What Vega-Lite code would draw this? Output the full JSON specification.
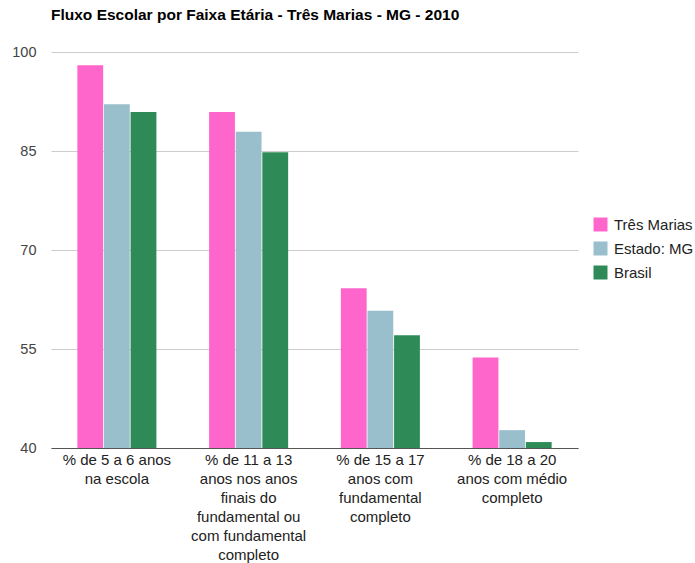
{
  "$schema": "https://vega.github.io/schema/vega-lite/v6.json",
  "width": 527,
  "height": 396,
  "autosize": "none",
  "padding": {"left": 51, "top": 52, "right": 117, "bottom": 115},
  "background": "white",
  "title": {
    "text": "Fluxo Escolar por Faixa Etária - Três Marias - MG - 2010",
    "anchor": "start",
    "frame": "group",
    "font": "Liberation Sans",
    "fontSize": 15.5,
    "fontWeight": "bold",
    "color": "#000000",
    "offset": 21
  },
  "data": {
    "values": [
      {"faixa": "% de 5 a 6 anos na escola", "local": "Três Marias", "valor": 98.0},
      {"faixa": "% de 5 a 6 anos na escola", "local": "Estado: MG", "valor": 92.1},
      {"faixa": "% de 5 a 6 anos na escola", "local": "Brasil", "valor": 90.9},
      {"faixa": "% de 11 a 13 anos nos anos finais do fundamental ou com fundamental completo", "local": "Três Marias", "valor": 90.9},
      {"faixa": "% de 11 a 13 anos nos anos finais do fundamental ou com fundamental completo", "local": "Estado: MG", "valor": 87.9},
      {"faixa": "% de 11 a 13 anos nos anos finais do fundamental ou com fundamental completo", "local": "Brasil", "valor": 84.8},
      {"faixa": "% de 15 a 17 anos com fundamental completo", "local": "Três Marias", "valor": 64.2},
      {"faixa": "% de 15 a 17 anos com fundamental completo", "local": "Estado: MG", "valor": 60.8},
      {"faixa": "% de 15 a 17 anos com fundamental completo", "local": "Brasil", "valor": 57.1},
      {"faixa": "% de 18 a 20 anos com médio completo", "local": "Três Marias", "valor": 53.7},
      {"faixa": "% de 18 a 20 anos com médio completo", "local": "Estado: MG", "valor": 42.7},
      {"faixa": "% de 18 a 20 anos com médio completo", "local": "Brasil", "valor": 40.9}
    ]
  },
  "mark": {"type": "bar"},
  "encoding": {
    "x": {
      "field": "faixa",
      "type": "nominal",
      "sort": null,
      "title": null,
      "scale": {"paddingInner": 0.4, "paddingOuter": 0.2},
      "axis": {
        "labelAngle": 0,
        "labelFont": "Liberation Sans",
        "labelFontSize": 15,
        "labelColor": "#222222",
        "labelLineHeight": 19,
        "labelBaseline": "top",
        "labelPadding": 4,
        "labelLimit": 0,
        "ticks": false,
        "domainColor": "#555555",
        "domainWidth": 1,
        "labelExpr": "datum.label == '% de 5 a 6 anos na escola' ? ['% de 5 a 6 anos', 'na escola'] : datum.label == '% de 15 a 17 anos com fundamental completo' ? ['% de 15 a 17', 'anos com', 'fundamental', 'completo'] : datum.label == '% de 18 a 20 anos com médio completo' ? ['% de 18 a 20', 'anos com médio', 'completo'] : ['% de 11 a 13', 'anos nos anos', 'finais do', 'fundamental ou', 'com fundamental', 'completo']"
      }
    },
    "xOffset": {
      "field": "local",
      "type": "nominal",
      "sort": ["Três Marias", "Estado: MG", "Brasil"],
      "scale": {"paddingInner": 0.03, "paddingOuter": 0}
    },
    "y": {
      "field": "valor",
      "type": "quantitative",
      "title": null,
      "scale": {"domain": [40, 100], "nice": false, "zero": false},
      "axis": {
        "values": [40, 55, 70, 85, 100],
        "labelFont": "Liberation Sans",
        "labelFontSize": 14.5,
        "labelColor": "#444444",
        "labelPadding": 15,
        "ticks": false,
        "domain": false,
        "gridColor": "#cccccc",
        "gridWidth": 1
      }
    },
    "y2": {"datum": 40},
    "color": {
      "field": "local",
      "type": "nominal",
      "sort": ["Três Marias", "Estado: MG", "Brasil"],
      "scale": {"domain": ["Três Marias", "Estado: MG", "Brasil"], "range": ["#ff66cc", "#99bfcc", "#2e8b57"]},
      "legend": {
        "title": null,
        "orient": "none",
        "legendX": 542,
        "legendY": 165,
        "symbolType": "square",
        "symbolSize": 196,
        "symbolStrokeWidth": 0,
        "labelFont": "Liberation Sans",
        "labelFontSize": 15,
        "labelColor": "#222222",
        "rowPadding": 8,
        "labelOffset": 6
      }
    }
  },
  "config": {
    "view": {"stroke": null},
    "axis": {"gridDash": []}
  }
}
